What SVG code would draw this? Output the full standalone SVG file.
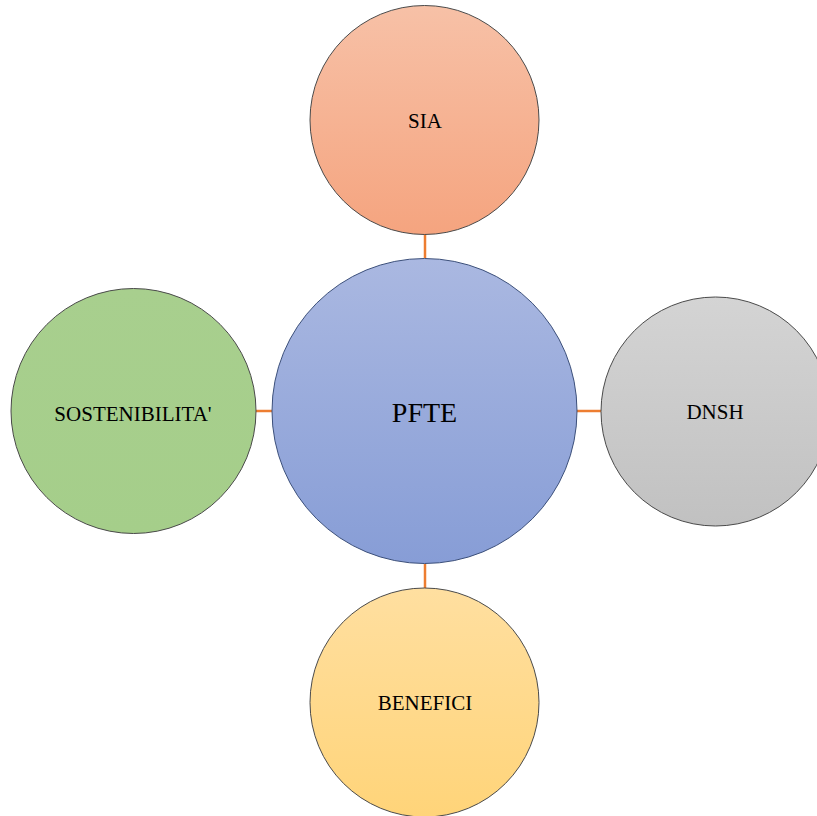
<svg xmlns="http://www.w3.org/2000/svg" width="817" height="816" viewBox="0 0 817 816">
<defs>
<linearGradient id="gOrange" x1="0" y1="0" x2="0" y2="1"><stop offset="0" stop-color="#F7C1A7"/><stop offset="1" stop-color="#F5A47F"/></linearGradient>
<linearGradient id="gBlue" x1="0" y1="0" x2="0" y2="1"><stop offset="0" stop-color="#AAB8E1"/><stop offset="1" stop-color="#879DD6"/></linearGradient>
<linearGradient id="gGreen" x1="0" y1="0" x2="0" y2="1"><stop offset="0" stop-color="#A8CF8E"/><stop offset="1" stop-color="#A5CE8A"/></linearGradient>
<linearGradient id="gGray" x1="0" y1="0" x2="0" y2="1"><stop offset="0" stop-color="#D4D4D4"/><stop offset="1" stop-color="#C1C1C1"/></linearGradient>
<linearGradient id="gGold" x1="0" y1="0" x2="0" y2="1"><stop offset="0" stop-color="#FFDFA0"/><stop offset="1" stop-color="#FFD479"/></linearGradient>
</defs>
<style>
.node circle{stroke:#4a4a4a;stroke-width:1}
.lbl{font-family:"Liberation Serif","Times New Roman",serif;font-size:21px;fill:#000;text-anchor:middle}
.big{font-size:28px}
.conn line{stroke:#ED7D31;stroke-width:2.5}
</style>
<rect width="817" height="816" fill="#fff"/>
<g id="connectors" class="conn">
<line x1="425" y1="234" x2="425" y2="258"/>
<line x1="425" y1="564" x2="425" y2="588"/>
<line x1="256" y1="411" x2="272" y2="411"/>
<line x1="576" y1="411" x2="601" y2="411"/>
</g>
<g id="sia" class="node"><circle cx="424.5" cy="120" r="114.5" fill="url(#gOrange)"/><text class="lbl" x="425" y="127.5">SIA</text></g>
<g id="sostenibilita" class="node"><circle cx="133.5" cy="411" r="122.5" fill="url(#gGreen)"/><text class="lbl" x="133" y="420.5">SOSTENIBILITA'</text></g>
<g id="dnsh" class="node"><circle cx="715.5" cy="411.5" r="114.5" fill="url(#gGray)"/><text class="lbl" x="715" y="419">DNSH</text></g>
<g id="benefici" class="node"><circle cx="424.5" cy="702.5" r="114.5" fill="url(#gGold)"/><text class="lbl" x="425" y="710">BENEFICI</text></g>
<g id="pfte" class="node"><circle cx="424.5" cy="411" r="152.5" fill="url(#gBlue)" style="stroke:#3b4f7a"/><text class="lbl big" x="424.5" y="421.5">PFTE</text></g>
</svg>
